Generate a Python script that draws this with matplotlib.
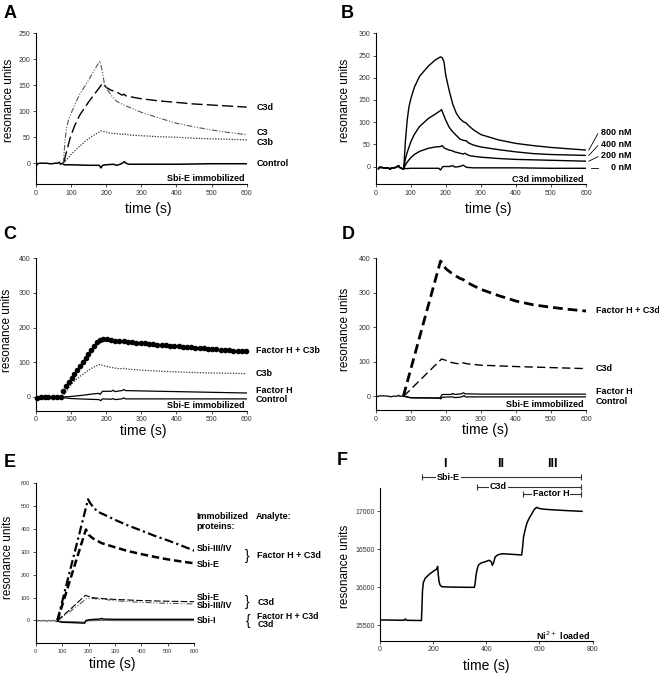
import matplotlib
matplotlib.use('Agg')
import matplotlib.pyplot as plt

plt.rcParams['font.family'] = ['Liberation Sans', 'DejaVu Sans']

# ---------------- panel A : Sbi-E immobilized ----------------
a_base_t = [3, 5, 10, 20, 30, 40, 45, 55, 62, 66, 70, 75]
a_base_y = [-3, -1, 0, 0, 0, -1, -1, 0, 0, 2, -2, 0]
a_ctrl_t = [80, 100, 150, 180, 185, 190, 200, 220, 230, 240, 248, 252, 256, 265, 300, 400, 500, 600]
a_ctrl_y = [-3, -3, -4, -4, -9, -4, -3, -2, -4, -2, 1, 3, 0, -2, -2, -2, -1, -1]
a_c3d_t = [80, 84, 90, 97, 110, 125, 150, 170, 190, 200, 215, 225, 235, 245, 250, 255, 260, 300, 350, 400, 450, 500, 550, 600]
a_c3d_y = [2, 15, 30, 48, 72, 93, 118, 136, 154, 146, 140, 139, 135, 131, 133, 130, 129, 124, 120, 117, 114, 112, 110, 108]
a_c3_t = [78, 80, 83, 87, 93, 100, 112, 125, 150, 165, 182, 188, 195, 205, 215, 230, 250, 300, 350, 400, 450, 500, 550, 600]
a_c3_y = [0, 20, 45, 68, 84, 96, 115, 133, 160, 178, 197, 180, 152, 140, 130, 119, 112, 98, 87, 77, 70, 64, 59, 55]
a_c3b_t = [78, 85, 100, 120, 140, 160, 185, 195, 210, 230, 245, 250, 255, 270, 300, 350, 400, 450, 500, 550, 600]
a_c3b_y = [0, 5, 17, 30, 42, 52, 62, 61, 58, 57, 55, 57, 56, 54, 53, 51, 50, 48, 47, 46, 45]

# ---------------- panel B : C3d immobilized, Sbi-E dilutions ----------------
b_base_t = [8, 10, 15, 25, 35, 42, 45, 50, 58, 65, 68, 72, 76]
b_base_y = [-5, -2, -2, -3, -3, -6, -3, -3, -2, 2, -2, -3, -5]
b800_t = [80, 85, 90, 95, 100, 110, 125, 150, 170, 185, 190, 195, 200, 210, 220, 230, 240, 250, 258, 265, 280, 300, 350, 400, 450, 500, 550, 600]
b800_y = [-5, 60, 105, 135, 152, 178, 203, 226, 240, 247, 245, 235, 205, 170, 140, 120, 108, 101, 98, 92, 82, 72, 60, 52, 47, 43, 40, 37]
b400_t = [80, 85, 90, 100, 110, 125, 150, 170, 185, 188, 192, 200, 210, 220, 230, 240, 250, 258, 265, 280, 300, 350, 400, 450, 500, 550, 600]
b400_y = [-5, 18, 32, 55, 72, 90, 108, 118, 126, 128, 120, 104, 88, 78, 70, 62, 59, 58, 53, 48, 44, 38, 33, 29, 27, 26, 25]
b200_t = [80, 85, 90, 100, 110, 125, 150, 170, 185, 190, 195, 200, 210, 220, 225, 230, 240, 250, 255, 260, 270, 300, 350, 400, 450, 500, 550, 600]
b200_y = [-5, 4, 10, 20, 27, 34, 41, 44, 45, 47, 42, 40, 37, 35, 33, 32, 30, 28, 30, 27, 24, 21, 18, 16, 15, 14, 13, 12]
b0_t = [80, 100, 150, 180, 185, 188, 192, 200, 210, 220, 225, 230, 240, 250, 255, 260, 280, 300, 400, 500, 600]
b0_y = [-5, -4, -4, -4, -8, -4, 0, 0, 0, 2, -1, -1, 0, 3, 0, -2, -3, -3, -3, -4, -4]
b_conc = ['800 nM', '400 nM', '200 nM', '0 nM']
b_label_y = [76, 49, 24, -2]

# ---------------- panel C : Factor H + C3b ----------------
c_fhc3b_t = [4, 14, 25, 36, 48, 60, 72,
             78, 86, 94, 102, 110, 118, 126, 134, 142, 150, 158, 166, 174, 182, 190,
             202, 214, 226, 238, 250, 262, 274, 286, 298, 310, 322, 334, 346, 358, 370, 382, 394,
             406, 418, 430, 442, 454, 466, 478, 490, 502, 514, 526, 538, 550, 562, 574, 586, 598]
c_fhc3b_y = [-3, 0, 0, 0, 0, 0, 0,
             18, 30, 42, 54, 66, 78, 90, 101, 113, 125, 136, 147, 157, 163, 168,
             166, 164, 162, 161, 162, 158, 157, 156, 155, 154, 153, 152, 151, 150, 149, 148, 147,
             146, 145, 144, 143, 142, 141, 140, 139, 138, 137, 136, 135, 134, 133, 133, 132, 131]
c_c3b_t = [75, 90, 100, 115, 130, 150, 165, 180, 190, 200, 215, 225, 240, 250, 260, 300, 350, 400, 450, 500, 550, 600]
c_c3b_y = [0, 20, 35, 50, 62, 77, 86, 93, 91, 88, 85, 83, 81, 82, 80, 77, 74, 72, 70, 69, 68, 67]
c_fh_t = [4, 75, 100, 130, 160, 180, 183, 190, 215, 220, 225, 245, 250, 255, 300, 400, 500, 600]
c_fh_y = [0, -1, 1, 4, 8, 10, 7, 16, 16, 19, 15, 18, 21, 18, 17, 15, 13, 11]
c_ctrl_t = [4, 75, 100, 150, 180, 185, 190, 215, 220, 225, 245, 250, 255, 300, 400, 500, 600]
c_ctrl_y = [0, -2, -5, -7, -8, -11, -6, -7, -5, -8, -6, -3, -6, -6, -6, -6, -6]

# ---------------- panel D : Factor H + C3d ----------------
d_base_t = [3, 10, 20, 38, 42, 50, 62, 65, 68, 75]
d_base_y = [-2, 1, 1, 0, -2, 0, 0, 3, 0, 0]
d_fhc3d_t = [79, 100, 120, 140, 160, 185, 190, 200, 215, 230, 240, 250, 255, 270, 300, 350, 400, 450, 500, 550, 600]
d_fhc3d_y = [0, 78, 152, 226, 300, 392, 386, 370, 358, 348, 342, 338, 335, 325, 310, 292, 276, 265, 258, 252, 247]
d_c3d_t = [80, 100, 120, 140, 160, 188, 200, 215, 230, 245, 250, 260, 300, 400, 500, 600]
d_c3d_y = [0, 20, 40, 60, 80, 108, 104, 98, 95, 93, 97, 94, 90, 86, 83, 80]
d_fh_t = [80, 100, 150, 183, 186, 190, 215, 220, 225, 245, 250, 255, 300, 400, 500, 600]
d_fh_y = [0, -4, -5, -6, -1, 5, 5, 8, 5, 7, 10, 7, 6, 6, 6, 6]
d_ctrl_t = [80, 100, 150, 183, 186, 190, 220, 225, 240, 248, 252, 256, 300, 400, 500, 600]
d_ctrl_y = [0, -5, -5, -5, -8, -3, -2, -4, -3, -1, 2, -2, -2, -2, -2, -2]

# ---------------- panel E : different immobilized Sbi constructs ----------------
e_base_t = [0, 10, 20, 30, 40, 50, 60, 70, 78]
e_base_y = [-5, 0, -2, 0, -3, 0, -2, 0, -5]
e_fh_iii_t = [82, 100, 120, 140, 160, 180, 198, 205, 215, 230, 245, 255, 300, 350, 400, 450, 500, 550, 600]
e_fh_iii_y = [0, 82, 174, 265, 356, 448, 530, 515, 500, 480, 470, 465, 440, 415, 393, 370, 350, 328, 305]
e_fh_sbie_t = [82, 100, 120, 140, 160, 180, 190, 200, 215, 230, 250, 300, 350, 400, 450, 500, 550, 600]
e_fh_sbie_y = [0, 66, 140, 214, 288, 362, 398, 375, 360, 350, 338, 320, 303, 290, 278, 267, 258, 250]
e_c3d_sbie_t = [82, 100, 130, 160, 188, 200, 215, 230, 250, 300, 400, 500, 600]
e_c3d_sbie_y = [0, 18, 48, 80, 110, 105, 100, 98, 96, 92, 87, 84, 82]
e_c3d_iii_t = [85, 100, 130, 160, 195, 210, 225, 245, 255, 300, 400, 500, 600]
e_c3d_iii_y = [0, 14, 40, 66, 98, 96, 95, 92, 93, 86, 79, 75, 72]
e_fh_sbii_t = [82, 100, 150, 185, 190, 200, 220, 240, 250, 255, 300, 400, 500, 600]
e_fh_sbii_y = [-3, -8, -10, -12, 0, 3, 5, 6, 9, 6, 5, 5, 5, 5]
e_c3d_sbii_t = [82, 100, 150, 185, 190, 200, 250, 300, 400, 500, 600]
e_c3d_sbii_y = [-3, -5, -6, -8, -3, -1, 1, 0, 0, 0, 0]

# ---------------- panel F : sequential injection on Ni2+ chip ----------------
f_t = [0, 20, 50, 90, 95, 100, 150, 156, 158, 160, 163, 170, 185, 200, 213, 217, 219, 222, 226, 232,
       250, 300, 355, 358, 361, 365, 370, 380, 395, 410, 418, 423, 428, 433, 445, 464, 480, 500, 533, 537,
       540, 545, 552, 560, 571, 580, 589, 600, 620, 650, 700, 760]
f_y = [15570, 15572, 15570, 15568, 15585, 15568, 15565, 15565, 15750, 15960, 16060, 16120, 16170, 16210, 16240, 16275, 16180, 16080, 16030, 16010,
       16005, 16002, 16000, 16050, 16150, 16230, 16290, 16320, 16335, 16355, 16340, 16290, 16330, 16400, 16430, 16442, 16437, 16433, 16425, 16540,
       16660, 16740, 16835, 16900, 16965, 17020, 17050, 17035, 17025, 17018, 17008, 16998]
f_steps = ['Sbi-E', 'C3d', 'Factor H']
f_step_start = [157, 364, 537]
f_step_end = 758
f_step_text_x = [258, 446, 644]
f_phase = ['I', 'II', 'III']
f_phase_x = [244, 455, 648]

W, H = 659, 673
fig = plt.figure(figsize=(W / 100, H / 100), dpi=100)


def style(ax, ylim, yticks, xlim=(0, 600), xticks=range(0, 601, 100), fs=5):
    ax.set_xlim(*xlim)
    ax.set_ylim(*ylim)
    ax.set_xticks(list(xticks))
    ax.set_yticks(list(yticks))
    for s in ['top', 'right']:
        ax.spines[s].set_visible(False)
    for s in ['left', 'bottom']:
        ax.spines[s].set_linewidth(0.8)
    ax.tick_params(labelsize=fs, length=2, width=0.6, pad=2, colors='#333333')


def labels(ax, ylx, yly, xlx, xly, ysize=8.5, xsize=10):
    ax.text(ylx, yly, 'resonance units', rotation=90, ha='center', va='center',
            fontsize=ysize, transform=ax.transAxes)
    ax.text(xlx, xly, 'time (s)', ha='center', va='center', fontsize=xsize,
            transform=ax.transAxes)


def bold(ax, x, y, s, **kw):
    kw.setdefault('fontsize', 6.5)
    kw.setdefault('ha', 'left')
    kw.setdefault('va', 'center')
    ax.text(x, y, s, fontweight='bold', clip_on=False, **kw)


# ---- A ----
axA = fig.add_axes([0.0546, 0.7266, 0.3197, 0.2239])
style(axA, (-40, 250), range(0, 251, 50))
axA.plot(a_base_t + a_ctrl_t, a_base_y + a_ctrl_y, color='black', lw=1.1)
axA.plot(a_c3d_t, a_c3d_y, color='black', lw=1.0, dashes=(8, 3))
axA.plot(a_c3_t, a_c3_y, color='#555555', lw=0.8, dashes=(5, 1.5, 1, 1.5, 1, 1.5))
axA.plot(a_c3b_t, a_c3b_y, color='#333333', lw=0.9, dashes=(1, 1.2))
bold(axA, 627, 108, 'C3d')
bold(axA, 627, 60, 'C3')
bold(axA, 627, 40, 'C3b')
bold(axA, 627, -1, 'Control')
bold(axA, 595, -30, 'Sbi-E immobilized', ha='right')
labels(axA, -0.128, 0.557, 0.535, -0.168)

# ---- B ----
axB = fig.add_axes([0.5701, 0.7262, 0.3191, 0.2243])
style(axB, (-40, 300), range(0, 301, 50))
for tt, yy in [(b800_t, b800_y), (b400_t, b400_y), (b200_t, b200_y), (b0_t, b0_y)]:
    axB.plot(b_base_t + tt, b_base_y + yy, color='black', lw=1.0)
ends = [b800_y[-1], b400_y[-1], b200_y[-1]]
for e, ly in zip(ends, b_label_y[:3]):
    axB.plot([608, 634], [e, ly - 2], color='black', lw=0.6, clip_on=False)
axB.plot([614, 634], [b0_y[-1] + 1, b0_y[-1] + 1], color='black', lw=0.6, clip_on=False)
for s, ly in zip(b_conc, b_label_y):
    bold(axB, 730, ly, s, ha='right')
bold(axB, 592, -30, 'C3d immobilized', ha='right')
labels(axB, -0.146, 0.557, 0.535, -0.166)

# ---- C ----
axC = fig.add_axes([0.0542, 0.3898, 0.3202, 0.2264])
style(axC, (-40, 400), range(0, 401, 100))
axC.plot(c_ctrl_t, c_ctrl_y, color='black', lw=0.9)
axC.plot(c_fh_t, c_fh_y, color='black', lw=0.9)
axC.plot(c_c3b_t, c_c3b_y, color='#333333', lw=0.9, dashes=(1, 1.2))
axC.plot(c_fhc3b_t, c_fhc3b_y, ls='none', marker='o', ms=3.0, color='black', clip_on=False)
bold(axC, 626, 134, 'Factor H + C3b')
bold(axC, 626, 66, 'C3b')
bold(axC, 626, 19, 'Factor H')
bold(axC, 626, -9, 'Control')
bold(axC, 595, -24, 'Sbi-E immobilized', ha='right')
labels(axC, -0.137, 0.53, 0.51, -0.135)

# ---- D ----
axD = fig.add_axes([0.5701, 0.3908, 0.3191, 0.2254])
style(axD, (-40, 400), range(0, 401, 100))
axD.plot(d_base_t + d_ctrl_t, d_base_y + d_ctrl_y, color='black', lw=0.9)
axD.plot(d_fh_t, d_fh_y, color='black', lw=0.9)
axD.plot(d_c3d_t, d_c3d_y, color='black', lw=1.0, dashes=(6, 3))
axD.plot(d_fhc3d_t, d_fhc3d_y, color='black', lw=2.0, dashes=(3.5, 1.8))
bold(axD, 628, 250, 'Factor H + C3d')
bold(axD, 628, 80, 'C3d')
bold(axD, 628, 14, 'Factor H')
bold(axD, 628, -14, 'Control')
bold(axD, 592, -24, 'Sbi-E immobilized', ha='right')
labels(axD, -0.146, 0.53, 0.52, -0.135)

# ---- E ----
axE = fig.add_axes([0.0542, 0.0441, 0.2407, 0.2378])
style(axE, (-100, 600), range(0, 601, 100), fs=4)
axE.plot(e_base_t + e_c3d_sbii_t, e_base_y + e_c3d_sbii_y, color='#666666', lw=1.0)
axE.plot(e_fh_sbii_t, e_fh_sbii_y, color='black', lw=1.0)
axE.plot(e_c3d_iii_t, e_c3d_iii_y, color='#444444', lw=0.7, dashes=(6, 2, 1, 2, 1, 2))
axE.plot(e_c3d_sbie_t, e_c3d_sbie_y, color='black', lw=0.8, dashes=(6, 2))
axE.plot(e_fh_sbie_t, e_fh_sbie_y, color='black', lw=1.8, dashes=(3, 1.5))
axE.plot(e_fh_iii_t, e_fh_iii_y, color='black', lw=1.6, dashes=(4, 1.5, 1, 1.5))
bold(axE, 607, 456, 'Immobilized')
bold(axE, 607, 412, 'proteins:')
bold(axE, 834, 456, 'Analyte:')
bold(axE, 608, 315, 'Sbi-III/IV')
bold(axE, 608, 246, 'Sbi-E')
bold(axE, 608, 102, 'Sbi-E')
bold(axE, 608, 66, 'Sbi-III/IV')
bold(axE, 608, 0, 'Sbi-I')
axE.text(792, 282, '}', fontsize=10, ha='left', va='center', clip_on=False)
axE.text(792, 80, '}', fontsize=10, ha='left', va='center', clip_on=False)
axE.text(794, -2, '{', fontsize=10, ha='left', va='center', clip_on=False)
bold(axE, 838, 285, 'Factor H + C3d')
bold(axE, 838, 80, 'C3d')
bold(axE, 838, 17, 'Factor H + C3d', fontsize=6.2)
bold(axE, 838, -17, 'C3d', fontsize=6.2)
labels(axE, -0.173, 0.54, 0.48, -0.13)

# ---- F ----
axF = fig.add_axes([0.5766, 0.0480, 0.3227, 0.2264])
style(axF, (15300, 17300), [15500, 16000, 16500, 17000], xlim=(0, 800),
      xticks=range(0, 801, 200))
axF.plot(f_t, f_y, color='black', lw=1.1)
trans = axF.get_xaxis_transform()
for s, x0, tx, yy in zip(f_steps, f_step_start, f_step_text_x, [1.072, 1.010, 0.963]):
    axF.plot([x0, f_step_end], [yy, yy], color='#333333', lw=0.8, transform=trans, clip_on=False)
    axF.plot([x0, f_step_end], [yy, yy], ls='none', marker='|', ms=4, mew=0.8,
             color='#333333', transform=trans, clip_on=False)
    axF.text(tx, yy, s, transform=trans, ha='center', va='center', fontsize=6.5,
             fontweight='bold', bbox=dict(facecolor='white', edgecolor='none', pad=0.6))
for s, x in zip(f_phase, f_phase_x):
    axF.text(x, 1.16, s, transform=trans, ha='center', va='center', fontsize=9,
             fontweight='bold', clip_on=False)
bold(axF, 790, 15370, 'Ni$^{2+}$ loaded', ha='right')
labels(axF, -0.165, 0.486, 0.50, -0.166)

# panel letters
for s, x, y in [('A', 4, 5), ('B', 341, 5), ('C', 3, 226), ('D', 342, 226),
                ('E', 4, 454), ('F', 337, 452)]:
    fig.text(x / W, 1 - y / H, s, fontsize=13, fontweight='bold', ha='left', va='top')

fig.savefig('out.png', dpi=100)
